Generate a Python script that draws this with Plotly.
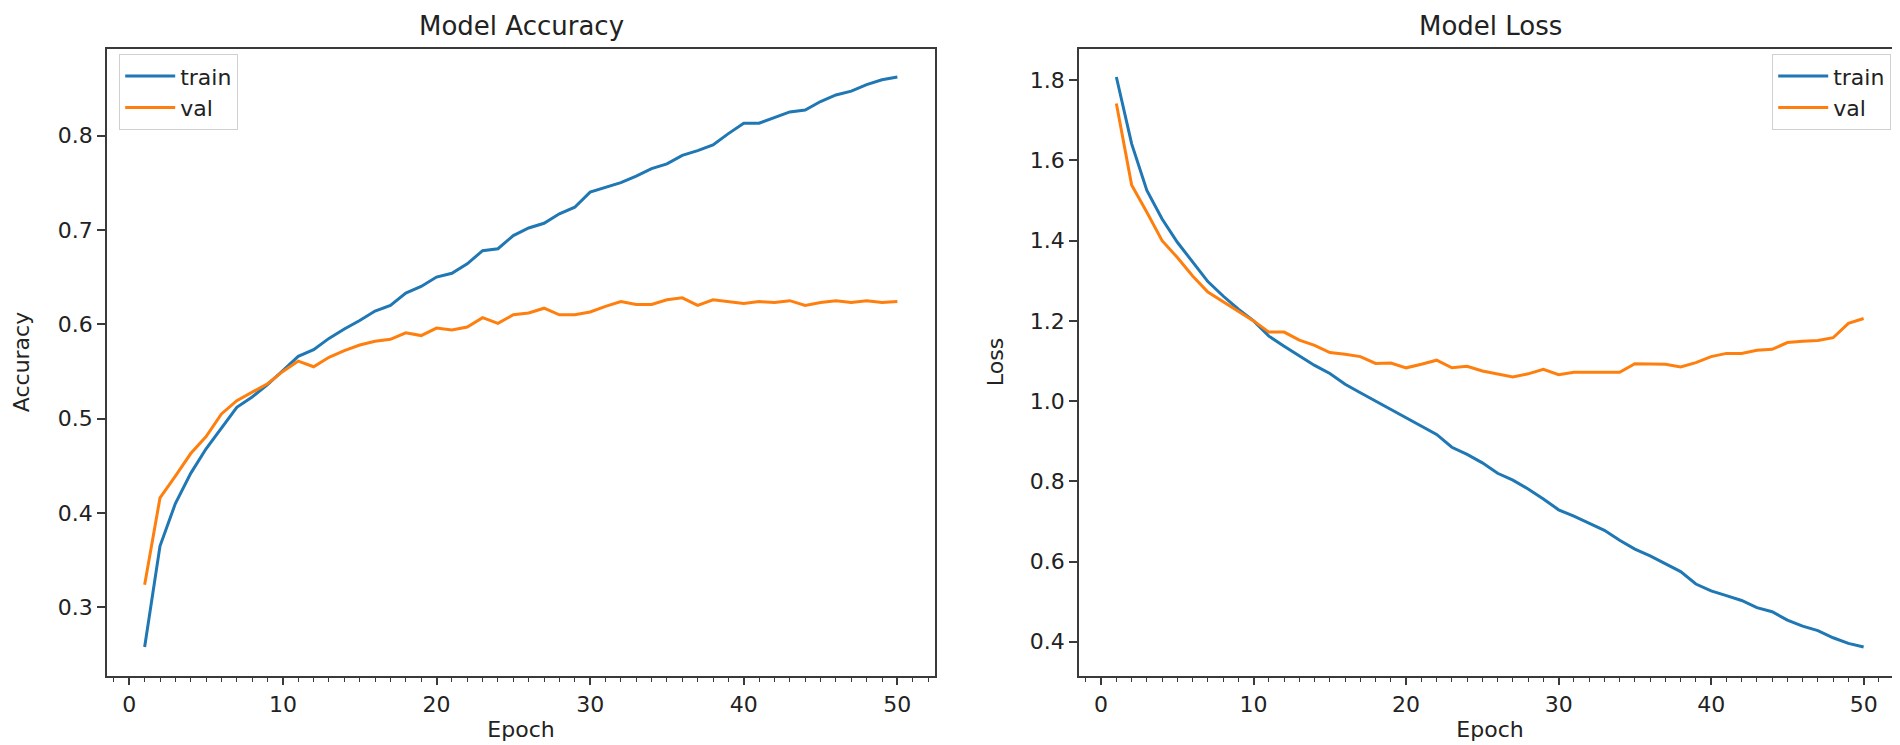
import plotly.graph_objects as go

epochs = list(range(1, 51))

train_acc = [0.258, 0.365, 0.410, 0.442, 0.468, 0.490, 0.512, 0.523, 0.536, 0.551,
             0.566, 0.573, 0.585, 0.595, 0.604, 0.614, 0.620, 0.633, 0.640, 0.650,
             0.654, 0.664, 0.678, 0.680, 0.694, 0.702, 0.707, 0.717, 0.724, 0.740,
             0.745, 0.750, 0.757, 0.765, 0.770, 0.779, 0.784, 0.790, 0.802, 0.813,
             0.813, 0.819, 0.825, 0.827, 0.836, 0.843, 0.847, 0.854, 0.859, 0.862]

val_acc = [0.324, 0.416, 0.439, 0.463, 0.481, 0.505, 0.519, 0.528, 0.537, 0.550,
           0.561, 0.555, 0.565, 0.572, 0.578, 0.582, 0.584, 0.591, 0.588, 0.596,
           0.594, 0.597, 0.607, 0.601, 0.610, 0.612, 0.617, 0.610, 0.610, 0.613,
           0.619, 0.624, 0.621, 0.621, 0.626, 0.628, 0.620, 0.626, 0.624, 0.622,
           0.624, 0.623, 0.625, 0.620, 0.623, 0.625, 0.623, 0.625, 0.623, 0.624]

train_loss = [1.808, 1.642, 1.525, 1.454, 1.396, 1.346, 1.298, 1.262, 1.229, 1.200,
              1.162, 1.137, 1.114, 1.089, 1.069, 1.042, 1.021, 1.000, 0.979, 0.958,
              0.939, 0.917, 0.885, 0.867, 0.846, 0.820, 0.803, 0.781, 0.756, 0.729,
              0.713, 0.696, 0.678, 0.653, 0.631, 0.614, 0.594, 0.575, 0.544, 0.527,
              0.515, 0.503, 0.485, 0.475, 0.454, 0.439, 0.428, 0.410, 0.396, 0.387]

val_loss = [1.742, 1.539, 1.471, 1.400, 1.358, 1.312, 1.272, 1.248, 1.225, 1.200,
            1.172, 1.172, 1.152, 1.139, 1.121, 1.117, 1.111, 1.094, 1.095, 1.083,
            1.092, 1.102, 1.083, 1.087, 1.075, 1.067, 1.060, 1.068, 1.079, 1.066,
            1.072, 1.072, 1.072, 1.072, 1.093, 1.093, 1.092, 1.085, 1.096, 1.111,
            1.119, 1.119, 1.127, 1.129, 1.146, 1.149, 1.151, 1.158, 1.194, 1.206]

series_names = ["train", "val"]
titles = ["Model Accuracy", "Model Loss"]
y_titles = ["Accuracy", "Loss"]
x_title = "Epoch"

BLUE = "#1f77b4"
ORANGE = "#ff7f0e"
TXT = "#222222"
FRAME = "#3a3a3a"
FONT = "DejaVu Sans"
LW = 3

W, H = 1900, 745


def mpl_range(vals, frac=0.05):
    lo, hi = min(vals), max(vals)
    pad = (hi - lo) * frac
    return [lo - pad, hi + pad]


fig = go.Figure()
fig.add_trace(go.Scatter(x=epochs, y=train_acc, mode="lines", name=series_names[0],
                         line=dict(color=BLUE, width=LW), xaxis="x", yaxis="y",
                         legend="legend"))
fig.add_trace(go.Scatter(x=epochs, y=val_acc, mode="lines", name=series_names[1],
                         line=dict(color=ORANGE, width=LW), xaxis="x", yaxis="y",
                         legend="legend"))
fig.add_trace(go.Scatter(x=epochs, y=train_loss, mode="lines", name=series_names[0],
                         line=dict(color=BLUE, width=LW), xaxis="x2", yaxis="y2",
                         legend="legend2"))
fig.add_trace(go.Scatter(x=epochs, y=val_loss, mode="lines", name=series_names[1],
                         line=dict(color=ORANGE, width=LW), xaxis="x2", yaxis="y2",
                         legend="legend2"))

top_px, bot_px = 40.5, 667.5
ydom = [1 - bot_px / H, 1 - top_px / H]
xdom1 = [99 / W, 927 / W]
xdom2 = [1071 / W, 1893 / W]

xr = mpl_range(epochs)

common_x = dict(
    range=xr, showgrid=False, zeroline=False, showline=True, linecolor=FRAME,
    linewidth=1.8, mirror=True, ticks="outside", ticklen=8, tickwidth=1.6,
    tickcolor=FRAME, tick0=0, dtick=10,
    tickfont=dict(family=FONT, size=22, color=TXT),
    minor=dict(dtick=1, tick0=0, ticks="outside", ticklen=4.5, tickwidth=1.2,
               tickcolor=FRAME, showgrid=False),
    title=dict(text=x_title, font=dict(family=FONT, size=22, color=TXT), standoff=6),
)
common_y = dict(
    showgrid=False, zeroline=False, showline=True, linecolor=FRAME,
    linewidth=1.8, mirror=True, ticks="outside", ticklen=8, tickwidth=1.6,
    tickcolor=FRAME, tickformat=".1f",
    tickfont=dict(family=FONT, size=22, color=TXT),
)

fig.update_layout(
    width=W, height=H,
    paper_bgcolor="white", plot_bgcolor="white",
    margin=dict(l=0, r=0, t=0, b=0),
    font=dict(family=FONT, color=TXT),
    xaxis=dict(domain=xdom1, anchor="y", **common_x),
    yaxis=dict(domain=ydom, anchor="x", range=mpl_range(train_acc + val_acc),
               tick0=0, dtick=0.1,
               title=dict(text=y_titles[0], font=dict(family=FONT, size=22, color=TXT),
                          standoff=22),
               **common_y),
    xaxis2=dict(domain=xdom2, anchor="y2", **common_x),
    yaxis2=dict(domain=ydom, anchor="x2", range=mpl_range(train_loss + val_loss),
                tick0=0, dtick=0.2,
                title=dict(text=y_titles[1], font=dict(family=FONT, size=22, color=TXT),
                           standoff=20),
                **common_y),
    legend=dict(x=111 / W, y=1 - 46 / H, xanchor="left", yanchor="top",
                bgcolor="white", bordercolor="#d0d0d0", borderwidth=1.2,
                font=dict(family=FONT, size=22, color=TXT), itemwidth=50,
                tracegroupgap=0),
    legend2=dict(x=1883 / W, y=1 - 46 / H, xanchor="right", yanchor="top",
                 bgcolor="white", bordercolor="#d0d0d0", borderwidth=1.2,
                 font=dict(family=FONT, size=22, color=TXT), itemwidth=50,
                 tracegroupgap=0),
    annotations=[
        dict(text=titles[0], x=(xdom1[0] + xdom1[1]) / 2, y=1 - 18 / H,
             xref="paper", yref="paper", xanchor="center", yanchor="middle",
             showarrow=False, font=dict(family=FONT, size=26, color=TXT)),
        dict(text=titles[1], x=(xdom2[0] + xdom2[1]) / 2, y=1 - 18 / H,
             xref="paper", yref="paper", xanchor="center", yanchor="middle",
             showarrow=False, font=dict(family=FONT, size=26, color=TXT)),
    ],
)

fig.write_html("out.html")
